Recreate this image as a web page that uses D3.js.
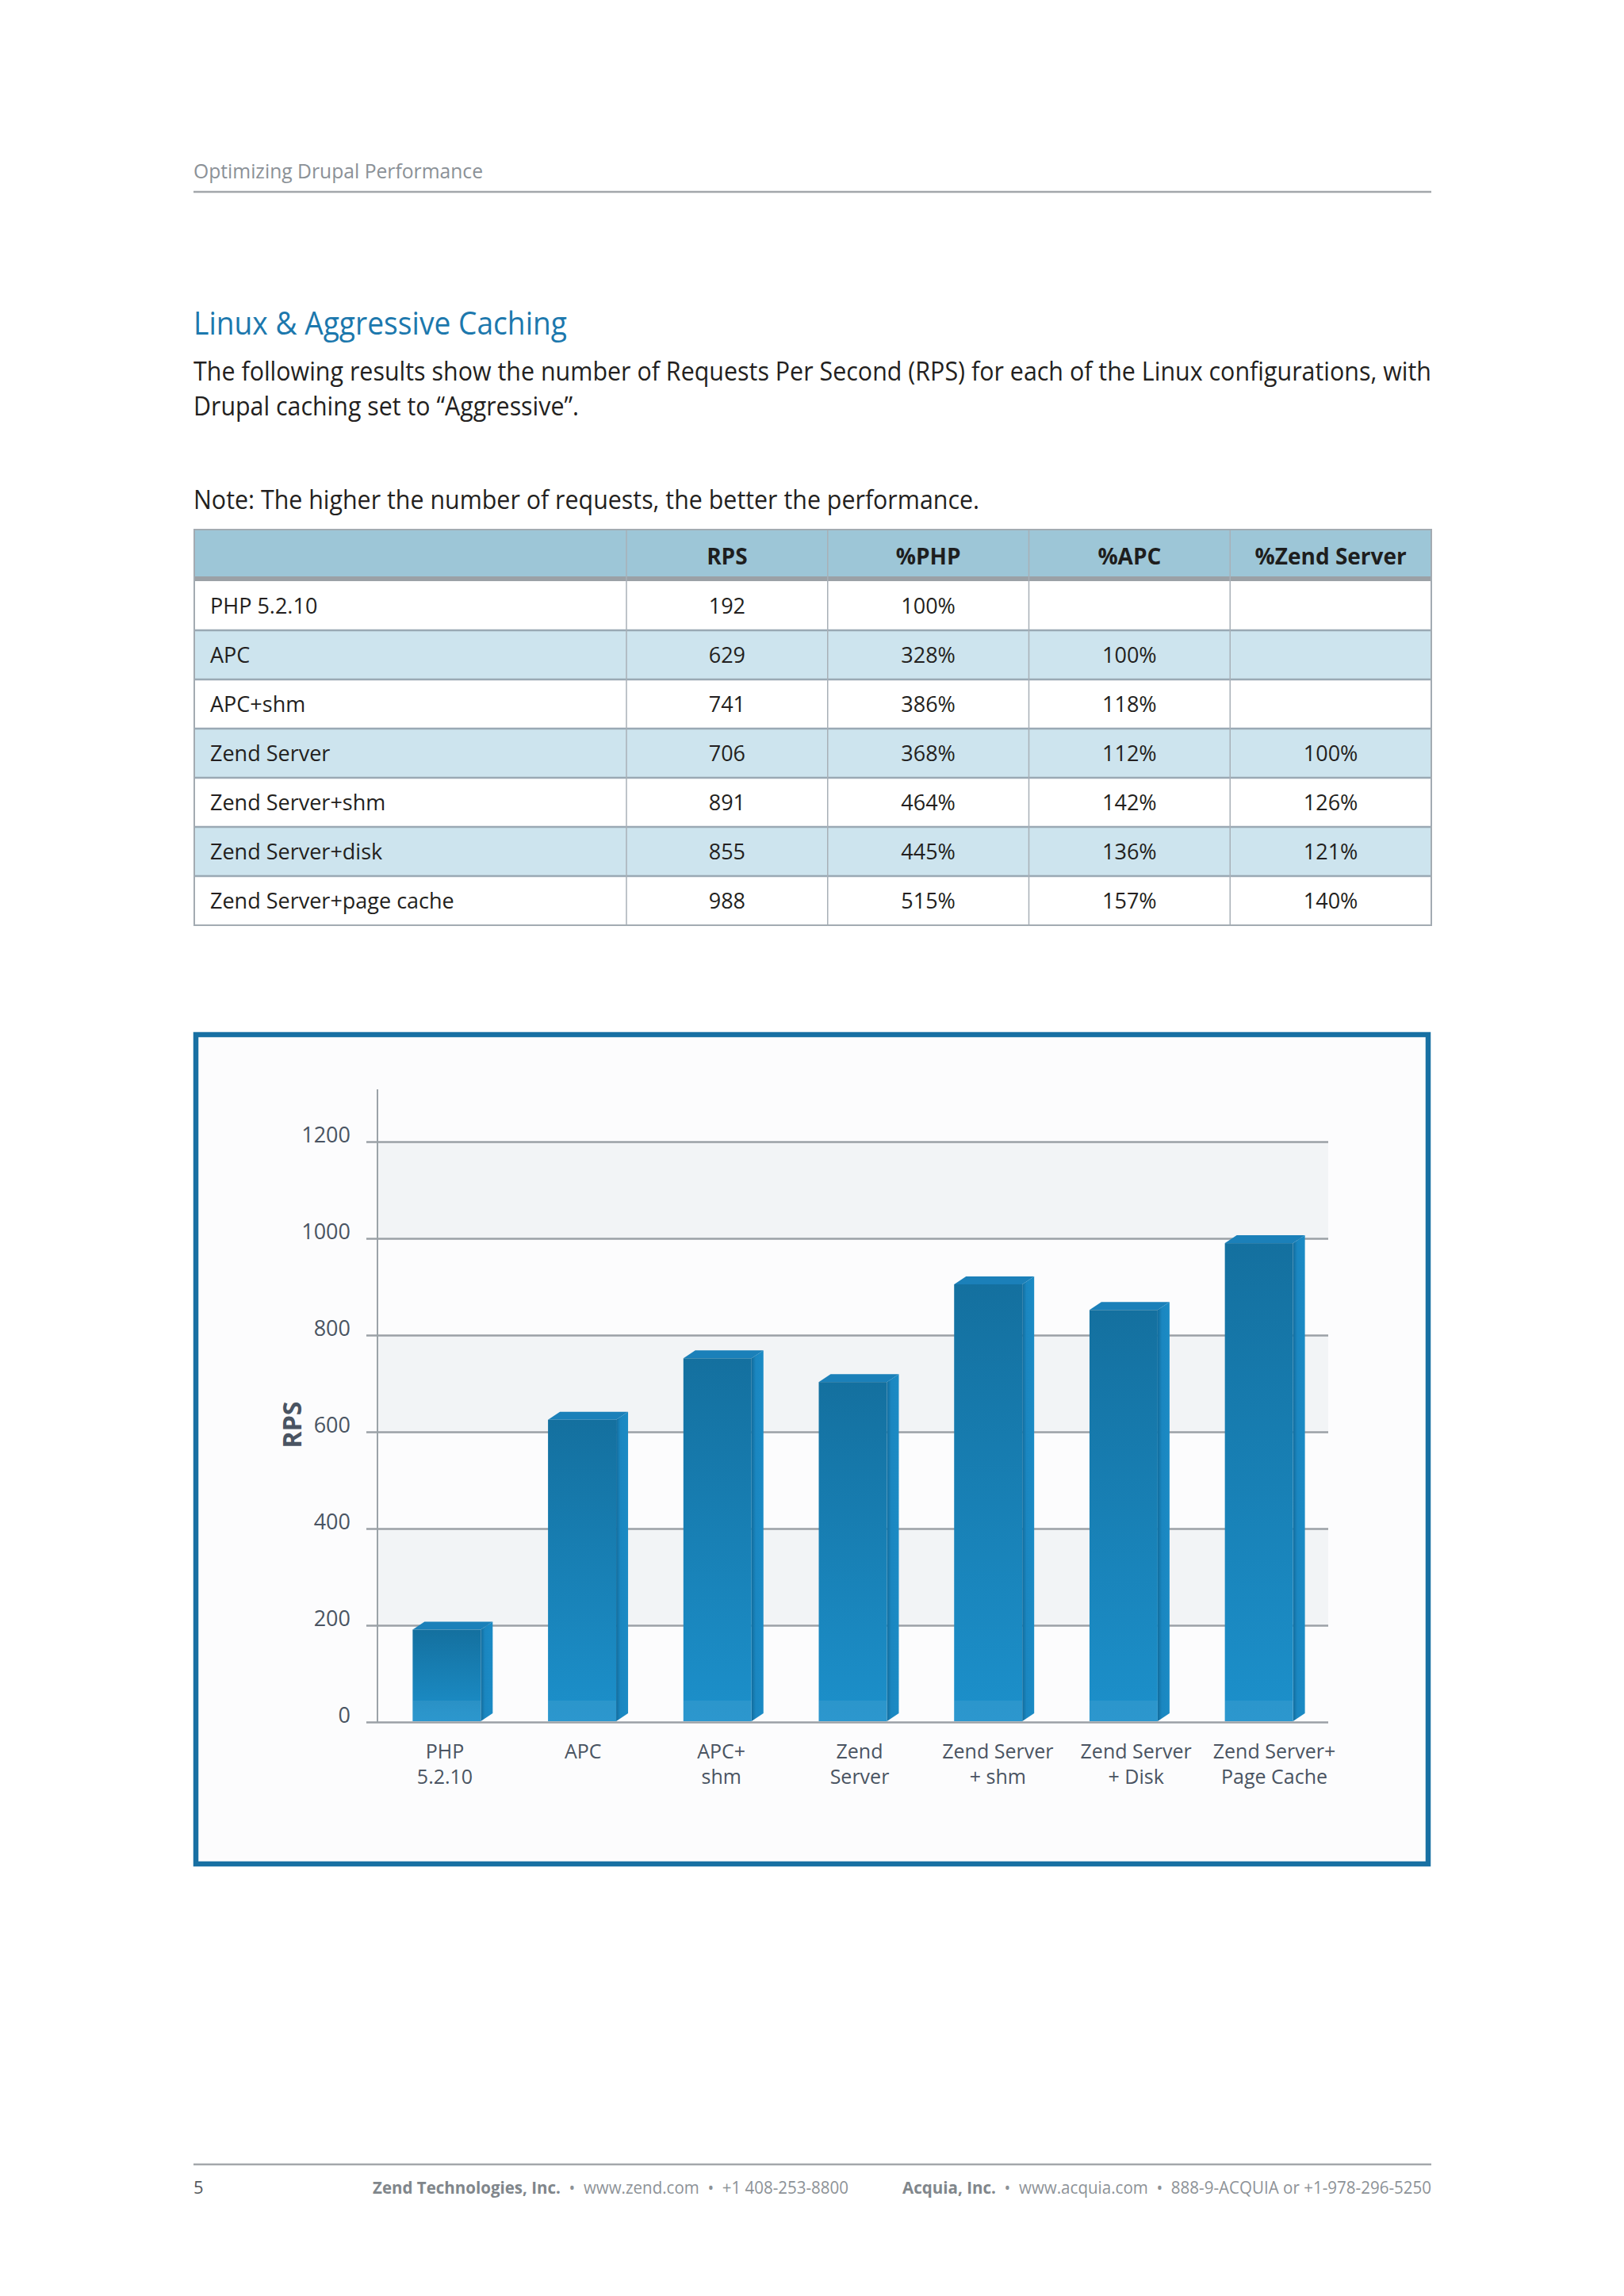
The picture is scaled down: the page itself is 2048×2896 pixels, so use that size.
<!DOCTYPE html>
<html>
<head>
<meta charset="utf-8">
<script src="https://cdn.jsdelivr.net/npm/d3@7"></script>
<style>
  body { margin: 0; background: #ffffff; }
  svg { display: block; }
  text { font-family: "Open Sans", "Noto Sans", sans-serif; }
</style>
</head>
<body>
<div id="page"></div>
<script>
// table data
var configs = ["PHP 5.2.10", "APC", "APC+shm", "Zend Server", "Zend Server+shm", "Zend Server+disk", "Zend Server+page cache"];
var rps = [192, 629, 741, 706, 891, 855, 988];
var pctPHP = ["100%", "328%", "386%", "368%", "464%", "445%", "515%"];
var pctAPC = ["", "100%", "118%", "112%", "142%", "136%", "157%"];
var pctZend = ["", "", "", "100%", "126%", "121%", "140%"];
var tableHeaders = ["RPS", "%PHP", "%APC", "%Zend Server"];

// chart data (bar heights as drawn in the chart)
var barValues = [191, 625, 752, 703, 905, 852, 990];
var barLabels = [["PHP", "5.2.10"], ["APC"], ["APC+", "shm"], ["Zend", "Server"], ["Zend Server", "+ shm"], ["Zend Server", "+ Disk"], ["Zend Server+", "Page Cache"]];
var yTicks = [0, 200, 400, 600, 800, 1000, 1200];

var W = 2048, H = 2896;
var svg = d3.select("#page").append("svg")
  .attr("width", W)
  .attr("height", H);

var defs = svg.append("defs");

// front face gradient
var gFront = defs.append("linearGradient").attr("id", "front")
  .attr("x1", 0).attr("y1", 0).attr("x2", 0).attr("y2", 1);
gFront.append("stop").attr("offset", "0%").attr("stop-color", "#14709f");
gFront.append("stop").attr("offset", "100%").attr("stop-color", "#1c90cb");

var gSide = defs.append("linearGradient").attr("id", "side")
  .attr("x1", 0).attr("y1", 0).attr("x2", 1).attr("y2", 0);
gSide.append("stop").attr("offset", "0%").attr("stop-color", "#126c9c");
gSide.append("stop").attr("offset", "35%").attr("stop-color", "#1a86c0");
gSide.append("stop").attr("offset", "100%").attr("stop-color", "#1b8bc5");

// ---------- page header ----------
svg.append("text")
  .attr("x", 244).attr("y", 225)
  .attr("font-size", 25)
  .attr("fill", "#8b9197")
  .attr("textLength", 365).attr("lengthAdjust", "spacingAndGlyphs")
  .text("Optimizing Drupal Performance");

svg.append("line")
  .attr("x1", 244).attr("x2", 1805)
  .attr("y1", 242).attr("y2", 242)
  .attr("stroke", "#a3a7ab").attr("stroke-width", 2.5);

// title + intro
svg.append("text")
  .attr("x", 244).attr("y", 422)
  .attr("font-size", 40)
  .attr("fill", "#1c78ad")
  .attr("textLength", 471).attr("lengthAdjust", "spacingAndGlyphs")
  .text("Linux & Aggressive Caching");

var para = [
  {t: "The following results show the number of Requests Per Second (RPS) for each of the Linux configurations, with", y: 480, w: 1561},
  {t: "Drupal caching set to \u201CAggressive\u201D.", y: 524, w: 486},
  {t: "Note: The higher the number of requests, the better the performance.", y: 642, w: 991}
];
svg.selectAll("text.para")
  .data(para)
  .enter()
  .append("text")
  .attr("class", "para")
  .attr("x", 244)
  .attr("y", d => d.y)
  .attr("font-size", 32)
  .attr("fill", "#231f20")
  .attr("textLength", d => d.w).attr("lengthAdjust", "spacingAndGlyphs")
  .text(d => d.t);

// ---------- table ----------
var tLeft = 245, tRight = 1805, tTop = 668, headBottom = 727, rowsTop = 733, tBottom = 1167;
var firstColRight = 790;

var colX = d3.scaleBand().domain(tableHeaders).range([firstColRight, tRight]);
var rowY = d3.scaleBand().domain(d3.range(configs.length)).range([rowsTop, tBottom]);

var table = svg.append("g");

// header
table.append("rect")
  .attr("x", tLeft).attr("y", tTop)
  .attr("width", tRight - tLeft).attr("height", headBottom - tTop)
  .attr("fill", "#9dc6d7");
table.append("rect")
  .attr("x", tLeft).attr("y", headBottom)
  .attr("width", tRight - tLeft).attr("height", rowsTop - headBottom)
  .attr("fill", "#9ba1a6");

// rows
table.selectAll("rect.row")
  .data(configs)
  .enter()
  .append("rect")
  .attr("class", "row")
  .attr("x", tLeft)
  .attr("y", (d, i) => rowY(i))
  .attr("width", tRight - tLeft)
  .attr("height", rowY.bandwidth())
  .attr("fill", (d, i) => i % 2 ? "#cde4ee" : "#ffffff");

// horizontal row lines
table.selectAll("line.hrow")
  .data(d3.range(1, configs.length))
  .enter()
  .append("line")
  .attr("class", "hrow")
  .attr("x1", tLeft).attr("x2", tRight)
  .attr("y1", i => rowY(i)).attr("y2", i => rowY(i))
  .attr("stroke", "#9aa9b4").attr("stroke-width", 2.5);

// vertical column lines
table.selectAll("line.vcol")
  .data(tableHeaders)
  .enter()
  .append("line")
  .attr("class", "vcol")
  .attr("x1", d => colX(d)).attr("x2", d => colX(d))
  .attr("y1", tTop).attr("y2", tBottom)
  .attr("stroke", "#a8b0b7").attr("stroke-width", 1.5);

// outer border
table.append("rect")
  .attr("x", tLeft).attr("y", tTop)
  .attr("width", tRight - tLeft).attr("height", tBottom - tTop)
  .attr("fill", "none")
  .attr("stroke", "#a3abb2").attr("stroke-width", 2);

// header text
table.selectAll("text.head")
  .data(tableHeaders)
  .enter()
  .append("text")
  .attr("class", "head")
  .attr("x", d => colX(d) + colX.bandwidth() / 2)
  .attr("y", 712)
  .attr("text-anchor", "middle")
  .attr("font-size", 28)
  .attr("font-weight", "bold")
  .attr("fill", "#1e1e1e")
  .text(d => d);

// first column text
table.selectAll("text.cfg")
  .data(configs)
  .enter()
  .append("text")
  .attr("class", "cfg")
  .attr("x", tLeft + 20)
  .attr("y", (d, i) => rowY(i) + rowY.bandwidth() / 2 + 10)
  .attr("font-size", 27)
  .attr("fill", "#231f20")
  .text(d => d);

// numeric cells
var cellCols = [rps, pctPHP, pctAPC, pctZend];
cellCols.forEach(function(col, c) {
  table.selectAll("text.c" + c)
    .data(col)
    .enter()
    .append("text")
    .attr("class", "c" + c)
    .attr("x", colX(tableHeaders[c]) + colX.bandwidth() / 2)
    .attr("y", (d, i) => rowY(i) + rowY.bandwidth() / 2 + 10)
    .attr("text-anchor", "middle")
    .attr("font-size", 27)
    .attr("fill", "#231f20")
    .text(d => d);
});

// ---------- chart ----------
// frame
svg.append("rect")
  .attr("x", 247).attr("y", 1305)
  .attr("width", 1554).attr("height", 1046)
  .attr("fill", "#fcfcfd")
  .attr("stroke", "#1870a3").attr("stroke-width", 6.5);

var axisX = 476, plotRight = 1675;
var y = d3.scaleLinear().domain([0, 1200]).range([2172, 1440]);
var x = d3.scaleBand().domain(configs).range([axisX, plotRight])
  .paddingInner(0.4965).paddingOuter(0.26);
var xLabel = d3.scalePoint().domain(configs).range([561, 1607]);

var chart = svg.append("g");

// alternating grey bands
chart.selectAll("rect.band")
  .data(yTicks.filter((d, i) => i % 2 === 1))
  .enter()
  .append("rect")
  .attr("class", "band")
  .attr("x", axisX)
  .attr("y", d => y(d + 200))
  .attr("width", plotRight - axisX)
  .attr("height", d => y(d) - y(d + 200))
  .attr("fill", "#f2f4f6");

// gridlines
var grid = chart.append("g")
  .attr("transform", `translate(${axisX - 14},0)`)
  .call(d3.axisLeft(y).tickValues(yTicks).tickSize(-(plotRight - axisX + 14)).tickFormat(""));
grid.select(".domain").remove();
grid.selectAll("line").attr("stroke", "#9ba1a6").attr("stroke-width", 2.5);

// tick labels
var yAxis = chart.append("g")
  .attr("transform", `translate(${axisX},0)`)
  .call(d3.axisLeft(y).tickValues(yTicks).tickFormat(d3.format("d")).tickSize(0).tickPadding(34));
yAxis.select(".domain").remove();
yAxis.selectAll("text")
  .attr("dy", "0.02em")
  .attr("font-size", 27)
  .attr("font-family", "'Open Sans', sans-serif")
  .attr("fill", "#4a5462");

// vertical axis line
chart.append("line")
  .attr("x1", axisX).attr("x2", axisX)
  .attr("y1", 1374).attr("y2", y(0))
  .attr("stroke", "#9ba3a8").attr("stroke-width", 2);

// y axis title
chart.append("text")
  .attr("transform", "translate(380,1797) rotate(-90)")
  .attr("text-anchor", "middle")
  .attr("font-size", 32)
  .attr("font-weight", "bold")
  .attr("fill", "#4a5462")
  .text("RPS");

// 3d bars
var dx = 15, dy = 10, base = y(0) - 1;
var bars = chart.selectAll("g.bar")
  .data(configs.map((c, i) => ({name: c, value: barValues[i]})))
  .enter()
  .append("g")
  .attr("class", "bar");

// side face
bars.append("path")
  .attr("d", function(d) {
    var x0 = x(d.name) + x.bandwidth(), top = y(d.value);
    return `M${x0},${top} L${x0 + dx},${top - dy} L${x0 + dx},${base - dy} L${x0},${base} Z`;
  })
  .attr("fill", "url(#side)");

// top face
bars.append("path")
  .attr("d", function(d) {
    var x0 = x(d.name), x1 = x0 + x.bandwidth(), top = y(d.value);
    return `M${x0},${top} L${x0 + dx},${top - dy} L${x1 + dx},${top - dy} L${x1},${top} Z`;
  })
  .attr("fill", "#1b80b9");

// front face
bars.append("rect")
  .attr("x", d => x(d.name))
  .attr("y", d => y(d.value))
  .attr("width", x.bandwidth())
  .attr("height", d => base - y(d.value))
  .attr("fill", "url(#front)");

// light strip at bottom of front
bars.append("rect")
  .attr("x", d => x(d.name))
  .attr("y", base - 26)
  .attr("width", x.bandwidth())
  .attr("height", 26)
  .attr("fill", "#ffffff")
  .attr("opacity", 0.07);

// category labels
var labels = chart.selectAll("text.cat")
  .data(configs)
  .enter()
  .append("text")
  .attr("class", "cat")
  .attr("x", d => xLabel(d))
  .attr("y", 2218)
  .attr("text-anchor", "middle")
  .attr("font-size", 25)
  .attr("fill", "#4a5462");

labels.selectAll("tspan")
  .data((d, i) => barLabels[i])
  .enter()
  .append("tspan")
  .attr("x", function() { return d3.select(this.parentNode).attr("x"); })
  .attr("dy", (d, i) => i === 0 ? 0 : 32)
  .text(d => d);

// ---------- footer ----------
svg.append("line")
  .attr("x1", 244).attr("x2", 1805)
  .attr("y1", 2730).attr("y2", 2730)
  .attr("stroke", "#a3a7ab").attr("stroke-width", 2.5);

svg.append("text")
  .attr("x", 244).attr("y", 2767)
  .attr("font-size", 22)
  .attr("fill", "#555a5e")
  .text("5");

var footParts = [
  {x: 470, w: 600, bold: "Zend Technologies, Inc.", rest: "  \u2022  www.zend.com  \u2022  +1 408-253-8800"},
  {x: 1138, w: 667, bold: "Acquia, Inc.", rest: "  \u2022  www.acquia.com  \u2022  888-9-ACQUIA or +1-978-296-5250"}
];
var foot = svg.selectAll("text.foot")
  .data(footParts)
  .enter()
  .append("text")
  .attr("class", "foot")
  .attr("x", d => d.x)
  .attr("y", 2767)
  .attr("font-size", 22)
  .attr("fill", "#8d9297")
  .attr("xml:space", "preserve")
  .style("white-space", "pre")
  .attr("textLength", d => d.w).attr("lengthAdjust", "spacingAndGlyphs");
foot.append("tspan").attr("font-weight", "bold").attr("fill", "#80868b").text(d => d.bold);
foot.append("tspan").text(d => d.rest);
</script>
</body>
</html>
